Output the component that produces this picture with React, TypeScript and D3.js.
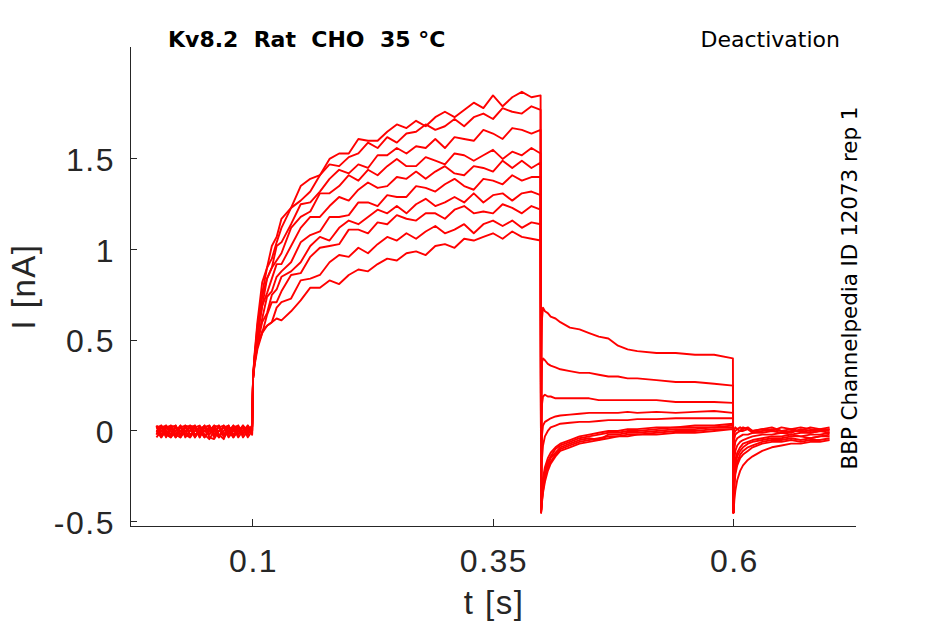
import React from "react";
import * as d3 from "d3";

// ---- tick labels ----
const xTicks = [0.1, 0.35, 0.6];
const yTicks = [-0.5, 0, 0.5, 1, 1.5];

// ---- time bases (s) for each protocol segment ----
const tBase = [0, 0.005, 0.01, 0.015, 0.02, 0.025, 0.03, 0.035, 0.04, 0.045, 0.05, 0.055, 0.06, 0.065, 0.07, 0.075, 0.08, 0.085, 0.09, 0.095, 0.0995];
const tAct = [0.1005, 0.102, 0.105, 0.11, 0.115, 0.12, 0.125, 0.13, 0.14, 0.15, 0.16, 0.17, 0.18, 0.19, 0.2, 0.21, 0.22, 0.23, 0.24, 0.25, 0.26, 0.27, 0.28, 0.29, 0.3, 0.31, 0.32, 0.33, 0.34, 0.35, 0.36, 0.37, 0.38, 0.39, 0.3995];
const tTail = [0.4, 0.4005, 0.401, 0.402, 0.404, 0.407, 0.41, 0.415, 0.42, 0.43, 0.44, 0.45, 0.46, 0.47, 0.48, 0.49, 0.5, 0.52, 0.54, 0.56, 0.58, 0.5995];
const tPost = [0.6, 0.6005, 0.601, 0.602, 0.604, 0.607, 0.61, 0.615, 0.62, 0.63, 0.64, 0.65, 0.66, 0.67, 0.68, 0.69, 0.7];

// ---- current (nA), one row per sweep ----
const baseline = [
  [0.02, -0.02, 0.03, 0.0, -0.035, 0.02, 0.03, -0.02, 0.0, 0.02, -0.035, 0.0, 0.03, 0.02, -0.02, 0.0, 0.03, -0.02, 0.02, 0.0, 0.02],
  [-0.02, 0.03, 0.0, -0.035, 0.02, 0.0, -0.02, 0.03, 0.02, -0.035, 0.02, 0.03, -0.02, 0.0, 0.02, -0.035, 0.0, 0.02, -0.02, 0.03, 0.0],
  [0.0, 0.02, -0.035, 0.02, 0.03, -0.02, 0.0, 0.02, -0.035, 0.0, 0.03, -0.02, 0.02, -0.035, 0.0, 0.03, -0.02, 0.0, 0.03, -0.02, 0.02],
  [0.03, -0.035, 0.02, 0.0, -0.02, 0.03, -0.035, 0.0, 0.02, 0.03, -0.02, -0.045, 0.0, 0.02, 0.03, -0.02, 0.02, -0.035, 0.0, 0.02, -0.02],
  [-0.035, 0.0, 0.02, 0.03, -0.02, -0.035, 0.02, 0.0, 0.03, -0.02, 0.0, 0.02, -0.035, 0.03, -0.02, 0.02, 0.0, 0.03, -0.035, 0.0, 0.03],
  [0.02, 0.03, -0.02, -0.035, 0.0, 0.02, 0.0, -0.035, 0.02, 0.0, 0.03, -0.035, -0.045, 0.0, 0.02, -0.02, 0.03, 0.0, 0.02, -0.035, 0.0],
  [0.0, -0.035, 0.0, 0.03, 0.02, -0.02, 0.03, 0.02, -0.02, 0.0, -0.035, 0.02, 0.0, -0.035, 0.03, 0.0, -0.035, 0.02, 0.0, 0.03, -0.02],
  [-0.02, 0.02, 0.03, -0.02, 0.0, 0.03, -0.02, -0.035, 0.0, 0.02, 0.02, 0.0, 0.03, -0.02, -0.045, 0.02, 0.0, -0.02, 0.03, 0.0, 0.02],
  [0.03, 0.0, -0.02, 0.02, -0.035, 0.0, 0.02, 0.03, -0.035, 0.02, 0.0, -0.02, 0.02, 0.03, -0.035, 0.0, 0.02, 0.03, -0.02, 0.02, 0.0],
  [0.0, 0.02, 0.0, -0.02, 0.03, -0.035, 0.0, 0.02, 0.03, -0.035, 0.02, 0.03, -0.02, 0.0, 0.02, 0.03, -0.035, 0.0, 0.02, -0.02, 0.03],
];

const activation = [
  [0.30, 0.42, 0.60, 0.82, 0.90, 1.02, 1.07, 1.17, 1.23, 1.35, 1.39, 1.41, 1.50, 1.53, 1.53, 1.61, 1.60, 1.60, 1.65, 1.69, 1.67, 1.71, 1.68, 1.73, 1.76, 1.73, 1.77, 1.81, 1.78, 1.85, 1.79, 1.84, 1.87, 1.84, 1.85],
  [0.30, 0.41, 0.58, 0.76, 0.90, 0.95, 1.04, 1.12, 1.23, 1.27, 1.32, 1.41, 1.47, 1.46, 1.51, 1.53, 1.59, 1.56, 1.62, 1.59, 1.64, 1.65, 1.69, 1.66, 1.68, 1.72, 1.68, 1.73, 1.75, 1.72, 1.78, 1.76, 1.75, 1.79, 1.77],
  [0.29, 0.40, 0.55, 0.74, 0.84, 0.90, 1.02, 1.04, 1.14, 1.25, 1.26, 1.32, 1.39, 1.44, 1.42, 1.47, 1.45, 1.52, 1.52, 1.56, 1.53, 1.57, 1.56, 1.61, 1.56, 1.62, 1.61, 1.60, 1.66, 1.64, 1.61, 1.67, 1.66, 1.64, 1.66],
  [0.30, 0.40, 0.54, 0.69, 0.84, 0.90, 0.94, 0.98, 1.12, 1.18, 1.21, 1.31, 1.31, 1.35, 1.41, 1.38, 1.44, 1.41, 1.46, 1.50, 1.46, 1.46, 1.51, 1.49, 1.47, 1.53, 1.52, 1.49, 1.52, 1.55, 1.50, 1.54, 1.52, 1.56, 1.53],
  [0.29, 0.39, 0.52, 0.69, 0.76, 0.84, 0.92, 0.92, 1.02, 1.12, 1.18, 1.18, 1.24, 1.29, 1.27, 1.33, 1.37, 1.34, 1.35, 1.40, 1.39, 1.43, 1.39, 1.43, 1.46, 1.42, 1.41, 1.46, 1.45, 1.43, 1.49, 1.45, 1.49, 1.45, 1.48],
  [0.30, 0.38, 0.50, 0.62, 0.74, 0.77, 0.85, 0.88, 0.93, 1.04, 1.08, 1.10, 1.18, 1.18, 1.19, 1.26, 1.26, 1.24, 1.30, 1.29, 1.29, 1.35, 1.34, 1.32, 1.36, 1.39, 1.35, 1.33, 1.39, 1.38, 1.36, 1.41, 1.38, 1.40, 1.40],
  [0.29, 0.38, 0.48, 0.60, 0.65, 0.75, 0.78, 0.85, 0.88, 0.93, 1.02, 1.07, 1.05, 1.12, 1.16, 1.14, 1.18, 1.22, 1.20, 1.24, 1.20, 1.25, 1.28, 1.24, 1.26, 1.29, 1.26, 1.31, 1.26, 1.30, 1.31, 1.27, 1.31, 1.32, 1.30],
  [0.30, 0.37, 0.47, 0.54, 0.64, 0.71, 0.71, 0.77, 0.86, 0.87, 0.96, 1.01, 1.02, 1.03, 1.11, 1.11, 1.09, 1.15, 1.14, 1.19, 1.17, 1.16, 1.20, 1.20, 1.17, 1.22, 1.24, 1.20, 1.21, 1.20, 1.25, 1.23, 1.20, 1.24, 1.22],
  [0.29, 0.36, 0.45, 0.54, 0.58, 0.60, 0.68, 0.71, 0.73, 0.83, 0.84, 0.86, 0.93, 0.97, 0.96, 1.01, 0.98, 1.03, 1.07, 1.05, 1.09, 1.06, 1.10, 1.13, 1.09, 1.11, 1.14, 1.09, 1.14, 1.16, 1.13, 1.16, 1.12, 1.15, 1.14],
  [0.29, 0.37, 0.47, 0.55, 0.58, 0.60, 0.62, 0.61, 0.66, 0.72, 0.79, 0.79, 0.83, 0.81, 0.86, 0.89, 0.88, 0.92, 0.95, 0.94, 0.98, 0.99, 0.97, 1.02, 1.03, 1.01, 1.06, 1.05, 1.07, 1.09, 1.06, 1.10, 1.07, 1.06, 1.05],
];

const tail = [
  [-0.44, 0.30, 0.62, 0.68, 0.66, 0.65, 0.63, 0.62, 0.60, 0.57, 0.56, 0.54, 0.52, 0.51, 0.47, 0.45, 0.44, 0.43, 0.43, 0.42, 0.42, 0.40],
  [-0.44, 0.15, 0.38, 0.40, 0.39, 0.37, 0.36, 0.35, 0.34, 0.33, 0.32, 0.32, 0.31, 0.30, 0.30, 0.29, 0.29, 0.28, 0.27, 0.27, 0.26, 0.25],
  [-0.44, 0.0, 0.15, 0.19, 0.20, 0.19, 0.19, 0.18, 0.18, 0.18, 0.18, 0.18, 0.17, 0.17, 0.17, 0.17, 0.17, 0.17, 0.16, 0.16, 0.16, 0.155],
  [-0.44, -0.15, -0.02, 0.03, 0.05, 0.06, 0.07, 0.08, 0.085, 0.09, 0.095, 0.10, 0.10, 0.10, 0.10, 0.105, 0.10, 0.105, 0.10, 0.105, 0.11, 0.10],
  [-0.44, -0.25, -0.15, -0.08, -0.03, 0.0, 0.02, 0.03, 0.04, 0.045, 0.05, 0.05, 0.055, 0.06, 0.06, 0.06, 0.065, 0.065, 0.07, 0.07, 0.07, 0.07],
  [-0.44, -0.38, -0.32, -0.26, -0.20, -0.15, -0.12, -0.09, -0.07, -0.05, -0.03, -0.02, -0.01, 0.0, 0.0, 0.01, 0.01, 0.02, 0.02, 0.03, 0.03, 0.04],
  [-0.44, -0.40, -0.35, -0.29, -0.22, -0.17, -0.14, -0.10, -0.08, -0.06, -0.04, -0.03, -0.02, -0.01, -0.01, 0.0, 0.0, 0.01, 0.02, 0.02, 0.02, 0.03],
  [-0.45, -0.41, -0.37, -0.31, -0.24, -0.19, -0.15, -0.12, -0.09, -0.07, -0.05, -0.04, -0.05, -0.02, -0.02, -0.01, -0.01, 0.0, 0.01, 0.01, 0.02, 0.02],
  [-0.45, -0.42, -0.38, -0.33, -0.26, -0.20, -0.17, -0.13, -0.10, -0.08, -0.06, -0.05, -0.04, -0.03, -0.03, -0.02, -0.02, -0.01, 0.0, 0.0, 0.01, 0.01],
  [-0.45, -0.42, -0.39, -0.34, -0.28, -0.22, -0.18, -0.14, -0.11, -0.09, -0.07, -0.06, -0.05, -0.04, -0.03, -0.03, -0.02, -0.02, -0.01, -0.01, 0.0, 0.01],
];

const post = [
  [-0.45, -0.05, 0.01, 0.02, 0.01, 0.02, 0.01, 0.02, 0.0, 0.01, 0.02, 0.0, 0.01, 0.02, 0.01, 0.0, 0.01],
  [-0.45, -0.08, -0.01, 0.0, 0.01, 0.0, 0.02, 0.01, 0.0, 0.01, 0.0, 0.02, 0.01, 0.0, 0.02, 0.01, 0.02],
  [-0.45, -0.12, -0.04, -0.02, -0.01, 0.0, 0.0, 0.01, -0.01, 0.0, 0.01, 0.0, -0.01, 0.01, 0.0, 0.01, 0.0],
  [-0.45, -0.18, -0.10, -0.06, -0.04, -0.03, -0.02, -0.02, -0.01, -0.01, 0.0, -0.01, 0.0, 0.0, -0.01, 0.0, 0.01],
  [-0.45, -0.24, -0.16, -0.11, -0.08, -0.06, -0.05, -0.04, -0.03, -0.02, -0.02, -0.01, -0.02, -0.01, -0.01, 0.0, -0.01],
  [-0.45, -0.30, -0.22, -0.16, -0.12, -0.09, -0.07, -0.06, -0.05, -0.04, -0.03, -0.03, -0.02, -0.03, -0.02, -0.02, -0.01],
  [-0.45, -0.34, -0.26, -0.19, -0.14, -0.11, -0.09, -0.07, -0.06, -0.05, -0.04, -0.04, -0.03, -0.03, -0.04, -0.03, -0.02],
  [-0.45, -0.36, -0.28, -0.22, -0.17, -0.13, -0.11, -0.09, -0.08, -0.06, -0.05, -0.05, -0.04, -0.05, -0.04, -0.03, -0.03],
  [-0.45, -0.38, -0.31, -0.24, -0.19, -0.15, -0.13, -0.11, -0.09, -0.07, -0.06, -0.06, -0.05, -0.06, -0.05, -0.05, -0.04],
  [-0.45, -0.42, -0.38, -0.33, -0.27, -0.22, -0.19, -0.16, -0.14, -0.11, -0.09, -0.08, -0.07, -0.07, -0.06, -0.06, -0.05],
];

const W = 945;
const H = 624;
const AX = "#262626";
const TICK_FONT = "'Liberation Sans', Arial, sans-serif";
const TEXT_FONT = "'DejaVu Sans', sans-serif";

export default function App() {
  const x = d3.scaleLinear().domain([-0.0275, 0.7275]).range([130, 856]);
  const y = d3.scaleLinear().domain([-0.524, 2.117]).range([526, 47]);

  const sweeps = baseline.map((_, i) => {
    const pts: [number, number][] = [];
    tBase.forEach((t, k) => pts.push([t, baseline[i][k]]));
    tAct.forEach((t, k) => pts.push([t, activation[i][k]]));
    tTail.forEach((t, k) => pts.push([t, tail[i][k]]));
    tPost.forEach((t, k) => pts.push([t, post[i][k]]));
    return pts;
  });

  const line = d3
    .line<[number, number]>()
    .x((d) => x(d[0]))
    .y((d) => y(d[1]));

  const [x0, x1] = x.range();
  const [yb, yt] = y.range();

  return (
    <svg
      width={W}
      height={H}
      style={{ position: "absolute", left: 0, top: 0, background: "#fff" }}
    >
      <rect x={0} y={0} width={W} height={H} fill="#fff" />
      {/* traces */}
      <g fill="none" stroke="#ff0000" strokeWidth={1.9} strokeLinejoin="round">
        {sweeps.map((s, i) => (
          <path key={i} d={line(s) || ""} />
        ))}
      </g>
      {/* axes */}
      <g stroke={AX} strokeWidth={1} fill="none" shapeRendering="crispEdges">
        <line x1={x0} x2={x0} y1={yb} y2={yt} />
        <line x1={x0} x2={x1} y1={yb} y2={yb} />
        {yTicks.map((v) => (
          <line key={"yt" + v} x1={x0} x2={x0 + 7} y1={y(v)} y2={y(v)} />
        ))}
        {xTicks.map((v) => (
          <line key={"xt" + v} x1={x(v)} x2={x(v)} y1={yb} y2={yb - 7} />
        ))}
      </g>
      <g fill={AX} fontFamily={TICK_FONT} fontSize={32} letterSpacing={1.5}>
        {yTicks.map((v) => (
          <text key={"yl" + v} x={115} y={y(v) + 12} textAnchor="end">
            {String(v)}
          </text>
        ))}
        {xTicks.map((v) => (
          <text key={"xl" + v} x={x(v) + 1} y={572} textAnchor="middle">
            {String(v)}
          </text>
        ))}
        <text x={(x0 + x1) / 2 + 1} y={614} textAnchor="middle" fontSize={33}>
          t [s]
        </text>
        <text
          transform={`translate(35,${(yb + yt) / 2}) rotate(-90)`}
          textAnchor="middle"
          fontSize={33}
        >
          I [nA]
        </text>
      </g>
      <text
        x={168}
        y={47}
        fontFamily={TEXT_FONT}
        fontWeight="bold"
        fontSize={22}
        fill="#000"
        style={{ whiteSpace: "pre" }}
      >
        {"Kv8.2  Rat  CHO  35 °C"}
      </text>
      <text x={840} y={47} textAnchor="end" fontFamily={TEXT_FONT} fontSize={22} fill="#000">
        Deactivation
      </text>
      <text
        transform="translate(857,288) rotate(-90)"
        textAnchor="middle"
        fontFamily={TEXT_FONT}
        fontSize={21.4}
        fill="#000"
      >
        BBP Channelpedia ID 12073 rep 1
      </text>
    </svg>
  );
}
